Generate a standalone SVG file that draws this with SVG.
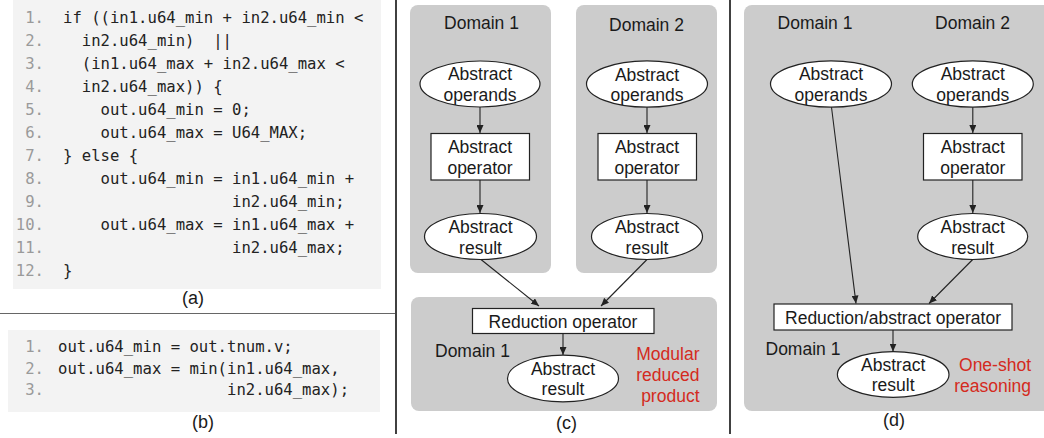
<svg xmlns="http://www.w3.org/2000/svg" width="1044" height="438" viewBox="0 0 1044 438">
<style>
.code{font-family:"DejaVu Sans Mono","Liberation Mono",monospace;font-size:15.6px;fill:#222}
.ln{font-family:"DejaVu Sans Mono","Liberation Mono",monospace;font-size:15.6px;fill:#9a9a9a;text-anchor:end}
.cbox{fill:#f3f3f3}
.panel{fill:#cccccc}
.lbl{font-family:"Liberation Sans",Arial,sans-serif;font-size:17.5px;fill:#1a1a1a;text-anchor:middle}
.dom{font-family:"Liberation Sans",Arial,sans-serif;font-size:17.5px;fill:#1a1a1a}
.red{font-family:"Liberation Sans",Arial,sans-serif;font-size:17.5px;fill:#d42a20;text-anchor:end}
.cap{font-family:"Liberation Sans",Arial,sans-serif;font-size:18px;fill:#1a1a1a;text-anchor:middle}
.node{fill:#fff;stroke:#222;stroke-width:1.2}
.edge{stroke:#222;stroke-width:1.1;fill:none;marker-end:url(#ah)}
</style>
<defs>
<marker id="ah" markerUnits="userSpaceOnUse" markerWidth="9" markerHeight="7" refX="8" refY="3.5" orient="auto">
<path d="M0,0 L8,3.5 L0,7 z" fill="#222"/>
</marker>
</defs>

<!-- dividers -->
<g id="dividers">
<line x1="396" y1="0" x2="396" y2="434" stroke="#111" stroke-width="1.6"/>
<line x1="730" y1="0" x2="730" y2="434" stroke="#111" stroke-width="1.6"/>
<line x1="0" y1="313.5" x2="395" y2="313.5" stroke="#666" stroke-width="1.2"/>
</g>

<!-- panel (a) -->
<g id="panel-a">
<rect class="cbox" x="13" y="0" width="368" height="289"/>
<text class="ln" x="44" y="23">1.</text>
<text class="ln" x="44" y="46">2.</text>
<text class="ln" x="44" y="69">3.</text>
<text class="ln" x="44" y="92">4.</text>
<text class="ln" x="44" y="115">5.</text>
<text class="ln" x="44" y="138">6.</text>
<text class="ln" x="44" y="161">7.</text>
<text class="ln" x="44" y="184">8.</text>
<text class="ln" x="44" y="207">9.</text>
<text class="ln" x="44" y="230">10.</text>
<text class="ln" x="44" y="253">11.</text>
<text class="ln" x="44" y="276">12.</text>
<text class="code" xml:space="preserve" x="63" y="23">if ((in1.u64_min + in2.u64_min &lt;</text>
<text class="code" xml:space="preserve" x="63" y="46">  in2.u64_min)  ||</text>
<text class="code" xml:space="preserve" x="63" y="69">  (in1.u64_max + in2.u64_max &lt;</text>
<text class="code" xml:space="preserve" x="63" y="92">  in2.u64_max)) {</text>
<text class="code" xml:space="preserve" x="63" y="115">    out.u64_min = 0;</text>
<text class="code" xml:space="preserve" x="63" y="138">    out.u64_max = U64_MAX;</text>
<text class="code" xml:space="preserve" x="63" y="161">} else {</text>
<text class="code" xml:space="preserve" x="63" y="184">    out.u64_min = in1.u64_min +</text>
<text class="code" xml:space="preserve" x="63" y="207">                  in2.u64_min;</text>
<text class="code" xml:space="preserve" x="63" y="230">    out.u64_max = in1.u64_max +</text>
<text class="code" xml:space="preserve" x="63" y="253">                  in2.u64_max;</text>
<text class="code" xml:space="preserve" x="63" y="276">}</text>
<text class="cap" x="193" y="304">(a)</text>
</g>

<!-- panel (b) -->
<g id="panel-b">
<rect class="cbox" x="8" y="330" width="372" height="82"/>
<text class="ln" x="44" y="352">1.</text>
<text class="ln" x="44" y="373.5">2.</text>
<text class="ln" x="44" y="395">3.</text>
<text class="code" xml:space="preserve" x="58" y="352">out.u64_min = out.tnum.v;</text>
<text class="code" xml:space="preserve" x="58" y="373.5">out.u64_max = min(in1.u64_max,</text>
<text class="code" xml:space="preserve" x="58" y="395">                  in2.u64_max);</text>
<text class="cap" x="203" y="428">(b)</text>
</g>

<!-- panel (c) -->
<g id="panel-c-domains">
<rect class="panel" x="410" y="5" width="141" height="268" rx="8"/>
<rect class="panel" x="576" y="5" width="141" height="268" rx="8"/>
<rect class="panel" x="411" y="297" width="306" height="114" rx="8"/>
<text class="lbl" x="481.5" y="29">Domain 1</text>
<text class="lbl" x="646.5" y="30.5">Domain 2</text>
<text class="dom" x="435" y="357">Domain 1</text>
<text class="red" x="699.5" y="360">Modular</text>
<text class="red" x="699.5" y="381">reduced</text>
<text class="red" x="699.5" y="402">product</text>
<text class="cap" x="566.5" y="429">(c)</text>
</g>

<g id="c-d1-operands">
<ellipse class="node" cx="480" cy="84" rx="60" ry="23"/>
<text class="lbl" x="480" y="80">Abstract</text>
<text class="lbl" x="480" y="100.5">operands</text>
</g>
<g id="c-d1-operator">
<rect class="node" x="431" y="133.5" width="98.5" height="46.5"/>
<text class="lbl" x="480" y="153">Abstract</text>
<text class="lbl" x="480" y="173.5">operator</text>
</g>
<g id="c-d1-result">
<ellipse class="node" cx="480.5" cy="236.5" rx="56" ry="23"/>
<text class="lbl" x="480.5" y="233">Abstract</text>
<text class="lbl" x="480.5" y="253.5">result</text>
</g>
<g id="c-d2-operands">
<ellipse class="node" cx="647" cy="84" rx="60.5" ry="23.2"/>
<text class="lbl" x="647" y="80.5">Abstract</text>
<text class="lbl" x="647" y="101">operands</text>
</g>
<g id="c-d2-operator">
<rect class="node" x="598" y="133.5" width="98.5" height="46.5"/>
<text class="lbl" x="647" y="153">Abstract</text>
<text class="lbl" x="647" y="173.5">operator</text>
</g>
<g id="c-d2-result">
<ellipse class="node" cx="647" cy="236.5" rx="55.5" ry="23"/>
<text class="lbl" x="647" y="233">Abstract</text>
<text class="lbl" x="647" y="253.5">result</text>
</g>
<g id="c-reduction">
<rect class="node" x="472.5" y="308.5" width="181.5" height="25"/>
<text class="lbl" x="563" y="327.5">Reduction operator</text>
</g>
<g id="c-out-result">
<ellipse class="node" cx="563" cy="378.5" rx="55.5" ry="23.3"/>
<text class="lbl" x="563" y="374.5">Abstract</text>
<text class="lbl" x="563" y="395">result</text>
</g>

<!-- panel (d) -->
<g id="panel-d-domain">
<rect class="panel" x="744" y="5" width="320" height="406" rx="8"/>
<text class="lbl" x="815" y="28.5">Domain 1</text>
<text class="lbl" x="972.5" y="28.5">Domain 2</text>
<text class="dom" x="765.5" y="355">Domain 1</text>
<text class="red" x="1031" y="371">One-shot</text>
<text class="red" x="1031" y="392">reasoning</text>
<text class="cap" x="894" y="426">(d)</text>
</g>

<g id="d-d1-operands">
<ellipse class="node" cx="831" cy="84" rx="60.5" ry="23.2"/>
<text class="lbl" x="831" y="80">Abstract</text>
<text class="lbl" x="831" y="100.5">operands</text>
</g>
<g id="d-d2-operands">
<ellipse class="node" cx="972.8" cy="84" rx="60.5" ry="23.2"/>
<text class="lbl" x="972.8" y="80">Abstract</text>
<text class="lbl" x="972.8" y="100.5">operands</text>
</g>
<g id="d-d2-operator">
<rect class="node" x="923.5" y="133.5" width="98.5" height="46.5"/>
<text class="lbl" x="972.8" y="153">Abstract</text>
<text class="lbl" x="972.8" y="173.5">operator</text>
</g>
<g id="d-d2-result">
<ellipse class="node" cx="972.7" cy="236.5" rx="55" ry="23"/>
<text class="lbl" x="972.7" y="233">Abstract</text>
<text class="lbl" x="972.7" y="253.5">result</text>
</g>
<g id="d-reduction">
<rect class="node" x="774" y="304" width="238" height="26"/>
<text class="lbl" x="893" y="323.5">Reduction/abstract operator</text>
</g>
<g id="d-out-result">
<ellipse class="node" cx="893.2" cy="374.5" rx="55.8" ry="22.8"/>
<text class="lbl" x="893.2" y="370.5">Abstract</text>
<text class="lbl" x="893.2" y="391">result</text>
</g>

<!-- connectors -->
<g id="connectors">
<line class="edge" x1="480" y1="107" x2="480" y2="133"/>
<line class="edge" x1="480" y1="180" x2="480" y2="213"/>
<line class="edge" x1="647" y1="107.2" x2="647" y2="133"/>
<line class="edge" x1="647" y1="180" x2="647" y2="213"/>
<line class="edge" x1="481" y1="259.5" x2="539" y2="306"/>
<line class="edge" x1="647" y1="259.5" x2="601" y2="306"/>
<line class="edge" x1="563" y1="333.5" x2="563" y2="355"/>
<line class="edge" x1="831.5" y1="107.2" x2="856" y2="303.5"/>
<line class="edge" x1="972.8" y1="107.2" x2="972.8" y2="133"/>
<line class="edge" x1="972.8" y1="180" x2="972.8" y2="213"/>
<line class="edge" x1="972.7" y1="259.5" x2="929" y2="303.5"/>
<line class="edge" x1="893" y1="330" x2="893" y2="351.5"/>
</g>
</svg>
